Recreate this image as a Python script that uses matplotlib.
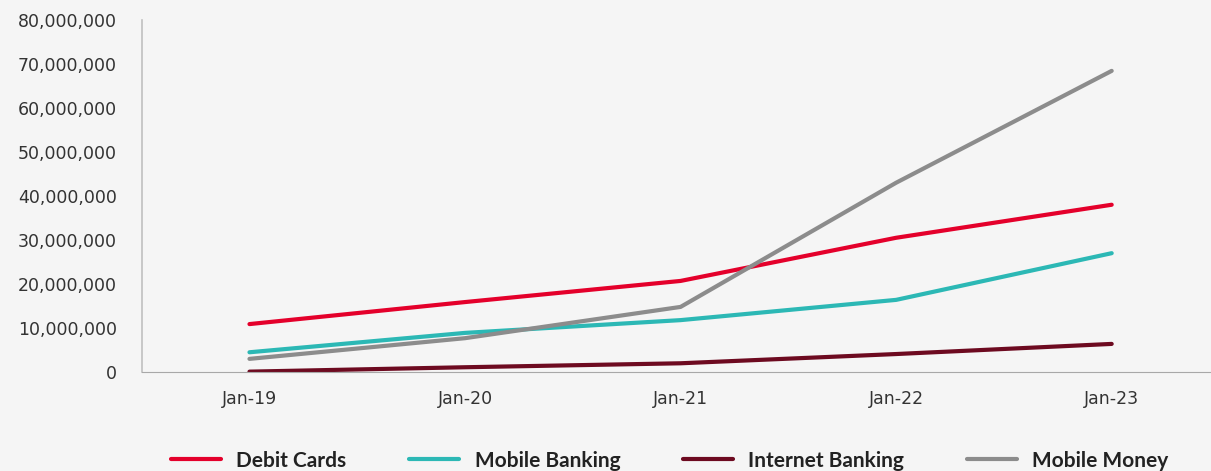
import matplotlib.pyplot as plt
from matplotlib.ticker import FuncFormatter

# data
periods = ["Jan-19", "Jan-20", "Jan-21", "Jan-22", "Jan-23"]
debit_cards = [10900000, 15900000, 20700000, 30500000, 38000000]
mobile_banking = [4500000, 8900000, 11800000, 16400000, 27000000]
internet_banking = [100000, 1100000, 2000000, 4100000, 6400000]
mobile_money = [3000000, 7700000, 14800000, 43000000, 68400000]

plt.rcParams['font.family'] = ['DejaVu Sans']

fig = plt.figure(figsize=(12.11, 4.71), dpi=100, facecolor='#f5f5f5')
ax = fig.add_axes([0.117, 0.21, 0.89, 0.748])
ax.set_facecolor('#f5f5f5')

xs = range(len(periods))
ax.plot(xs, debit_cards, color='#e4002b', lw=3, solid_capstyle='round', label="Debit Cards")
ax.plot(xs, mobile_banking, color='#2cb8b5', lw=3, solid_capstyle='round', label="Mobile Banking")
ax.plot(xs, internet_banking, color='#6d0a20', lw=3, solid_capstyle='round', label="Internet Banking")
ax.plot(xs, mobile_money, color='#8c8c8c', lw=3, solid_capstyle='round', label="Mobile Money")

ax.set_xlim(-0.5, 4.5)
ax.set_ylim(0, 80000000)
ax.set_xticks(list(xs))
ax.set_xticklabels(periods)
ax.set_yticks(range(0, 80000001, 10000000))
ax.yaxis.set_major_formatter(FuncFormatter(lambda v, p: f"{int(v):,}"))
ax.tick_params(length=0, labelsize=12.5, colors='#333333')
ax.tick_params(axis='x', pad=13)
ax.tick_params(axis='y', pad=18)

for s in ['top', 'right']:
    ax.spines[s].set_visible(False)
ax.spines['left'].set_color('#c0c0c0')
ax.spines['bottom'].set_color('#a8a8a8')
ax.spines['left'].set_linewidth(1.2)

leg = fig.legend(loc='center', bbox_to_anchor=(0.553, 0.022), ncol=4, frameon=False,
                 handlelength=2.4, columnspacing=3.0, handletextpad=0.75,
                 prop={'family': 'Lato', 'weight': 'bold', 'size': 15})
for t in leg.get_texts():
    t.set_color('#222222')

plt.savefig("out.png", dpi=100, facecolor=fig.get_facecolor())
